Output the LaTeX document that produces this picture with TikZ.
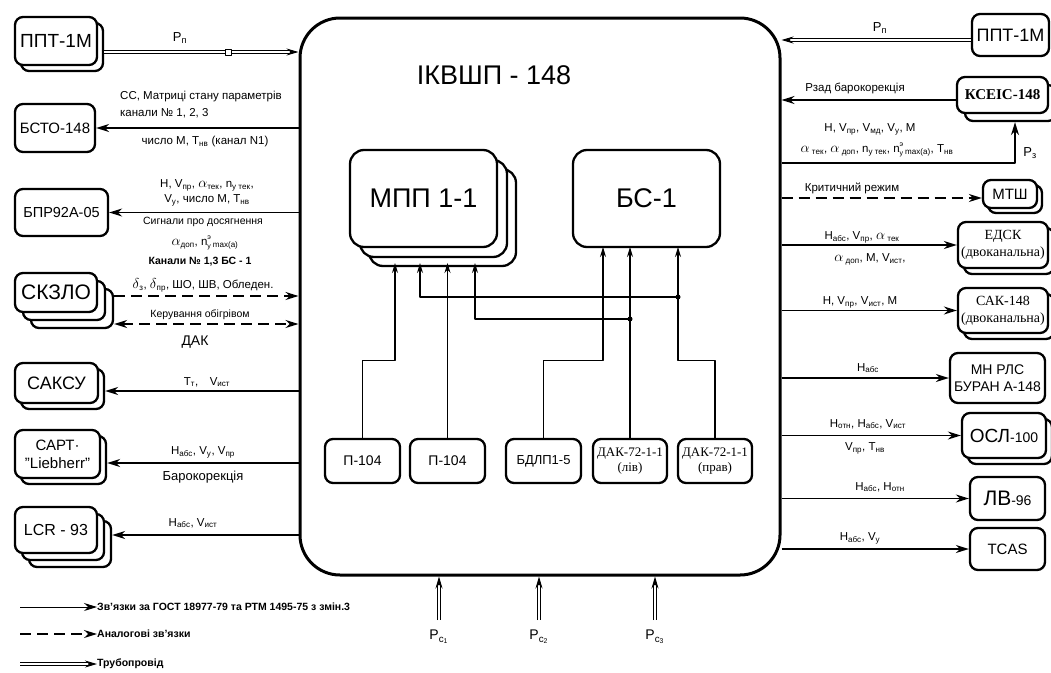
\documentclass[tikz,border=0pt]{standalone}
\usepackage{fontspec}
\usepackage{amsmath}
\setmainfont{Liberation Sans}
\newfontfamily\serifcyr{Liberation Serif}
\usetikzlibrary{arrows.meta,shadows}

\newcommand\ix[1]{\textsubscript{#1}}
\newcommand\fs[1]{\fontsize{#1}{#1}\selectfont\setlength\baselineskip{1.2\baselineskip}}
\newcommand\alf{{\fontsize{15}{15}\selectfont$\alpha$}}
\newcommand\dlt{{\fontsize{15}{15}\selectfont$\delta$}}
\newcommand\nuy{n{\fontsize{7}{7}\selectfont\rlap{\raisebox{5.5pt}{э}}\raisebox{-3pt}{у}}}

\tikzset{
 blk/.style={draw, line width=2.3pt, rounded corners=8pt, fill=white, inner sep=1pt, align=center},
 shd/.style={copy shadow={shadow xshift=#1, shadow yshift=-#1, opacity=1, fill=white, draw=black, line width=2.3pt}},
 shdd/.style 2 args={copy shadow={shadow xshift=#2, shadow yshift=-#2, opacity=1, fill=white, draw=black, line width=2.3pt},
   copy shadow={shadow xshift=#1, shadow yshift=-#1, opacity=1, fill=white, draw=black, line width=2.3pt}},
 conn/.style={line width=1.6pt, -{Stealth[length=13pt,width=8pt]}},
 analog/.style={conn, dash pattern=on 11pt off 6pt},
 pipe/.style={double, line width=1pt, double distance=2.2pt, -{Stealth[length=12pt,width=7pt]}},
 wire/.style={line width=1.1pt, -{Stealth[length=10pt,width=6pt]}},
 lbl/.style={font=\fs{11.5}, inner sep=0pt},
 jn/.style={circle, fill, inner sep=0pt, minimum size=5pt}
}

\begin{document}
\begin{tikzpicture}[x=1pt,y=-1pt,line join=round]
 \path[use as bounding box, fill=white] (0,0) rectangle (1051,672);

 % main unit
 \node[draw, line width=3pt, rounded corners=40pt, minimum width=480pt, minimum height=557pt, inner sep=0pt] (main) at (540,296.5) {};
 \node[font=\fs{27}] (title) at (494,75) {ІКВШП - 148};
 \node[blk, shdd={10pt}{19pt}, rounded corners=14pt, minimum width=147pt, minimum height=97pt, font=\fs{27}] (mpp) at (423.5,198.5) {МПП 1-1};
 \node[blk, rounded corners=14pt, minimum width=147pt, minimum height=97pt, font=\fs{27}] (bs) at (646.5,198.5) {БС-1};

 % sensors
 \node[blk, minimum width=75pt, minimum height=44pt, font=\fs{14}] (p1) at (362.5,461) {П-104};
 \node[blk, minimum width=75pt, minimum height=44pt, font=\fs{14}] (p2) at (447.5,461) {П-104};
 \node[blk, minimum width=75pt, minimum height=44pt, font=\fs{13}] (bdlp) at (543.5,461) {БДЛП1-5};
 \node[blk, minimum width=74pt, minimum height=44pt, font=\serifcyr\fs{13}] (dakl) at (630,461) {ДАК-72-1-1\\(лів)};
 \node[blk, minimum width=74pt, minimum height=44pt, font=\serifcyr\fs{13}] (dakp) at (715,461) {ДАК-72-1-1\\(прав)};

 \coordinate (m1) at (395,263);
 \coordinate (m2) at (420,263);
 \coordinate (m3) at (448,263);
 \coordinate (m4) at (475,263);
 \coordinate (b1) at (603,247);
 \coordinate (b3) at (678,247);
 \coordinate (j1) at (678,297);
 \coordinate (j2) at (630,319);
 \draw[wire] (p1.north) -- ++(0,-77) -| (m1);
 \draw[wire] (p2.north) -- (p2.north |- m3);
 \draw[wire] (bdlp.north) -- ++(0,-77) -| (b1);
 \draw[wire] (dakl.north) -- (dakl.north |- b1);
 \draw[wire] (dakp.north) -- ++(0,-77) -| (b3);
 \draw[wire] (j1) -| (m2);
 \draw[wire] (j2) -| (m4);
 \node[jn] (dot1) at (j1) {};
 \node[jn] (dot2) at (j2) {};

 % left side
 \node[blk, shd=6pt, minimum width=82pt, minimum height=48pt, font=\fs{19}] (pptl) at (56,41) {ППТ-1М};
 \node[blk, minimum width=80pt, minimum height=48pt, font=\fs{15}] (bsto) at (55,128) {БСТО-148};
 \node[blk, minimum width=93pt, minimum height=47pt, font=\fs{14.5}] (bpr) at (61.5,212.5) {БПР92А-05};
 \node[blk, shdd={8pt}{16pt}, minimum width=82pt, minimum height=39pt, font=\fs{21}] (skzlo) at (56,292.5) {СКЗЛО};
 \node[blk, shd=6pt, minimum width=83pt, minimum height=40pt, font=\fs{18}] (saksu) at (56.5,383) {САКСУ};
 \node[blk, shd=6pt, minimum width=85pt, minimum height=48pt, font=\fs{15}] (sart) at (57.5,454) {САРТ·\\"Liebherr"};
 \node[blk, shdd={7pt}{14pt}, minimum width=82pt, minimum height=46pt, font=\fs{16}] (lcr) at (56,530) {LCR - 93};

 \coordinate (pp1) at ([xshift=6pt,yshift=-11pt]pptl.east);
 \draw[pipe] (pp1) -- (pp1 -| main.west);
 \node[draw, fill=white, line width=.8pt, minimum size=6pt, inner sep=0pt] (valve) at (228,52) {};
 \draw[conn] (main.west |- bsto.east) -- (bsto.east);
 \draw[conn] (main.west |- bpr.east) -- (bpr.east);
 \coordinate (sk1) at ([xshift=16pt,yshift=-3.5pt]skzlo.east);
 \coordinate (sk2) at ([xshift=16pt,yshift=-31.5pt]skzlo.east);
 \draw[analog] (sk1) -- (sk1 -| main.west);
 \draw[analog, {Stealth[length=13pt,width=8pt]}-{Stealth[length=13pt,width=8pt]}] (sk2) -- (sk2 -| main.west);
 \coordinate (sa1) at ([xshift=6pt,yshift=-8pt]saksu.east);
 \draw[conn] (main.west |- sa1) -- (sa1);
 \coordinate (sr1) at ([xshift=6pt,yshift=-9pt]sart.east);
 \draw[conn] (main.west |- sr1) -- (sr1);
 \coordinate (lc1) at ([xshift=14pt,yshift=-5pt]lcr.east);
 \draw[conn] (main.west |- lc1) -- (lc1);

 \node[lbl, font=\fs{13}] (l1) at (180,38) {P\ix{п}};
 \node[lbl, anchor=west] (l2) at (120,97) {СС, Матриці стану параметрів};
 \node[lbl, anchor=west] (l3) at (120,113) {канали № 1, 2, 3};
 \node[lbl] (l4) at (205,142) {число М, Т\ix{нв} (канал N1)};
 \node[lbl] (l5) at (207,185) {H, V\ix{пр}, \alf\ix{тек}, n\ix{у тек},};
 \node[lbl] (l6) at (207,200) {V\ix{у}, число М, Т\ix{нв}};
 \node[lbl, font=\fs{10.5}] (l7) at (203,222) {Сигнали про досягнення};
 \node[lbl] (l8) at (205,243) {\alf\ix{доп}, \nuy\,\ix{max(a)}};
 \node[lbl, font=\bfseries\fs{10.5}] (l9) at (200,262) {Канали № 1,3 БС - 1};
 \node[lbl] (l10) at (203,285) {\dlt\ix{з}, \dlt\ix{пр}, ШО, ШВ, Обледен.};
 \node[lbl, font=\fs{10.5}] (l11) at (200,315) {Керування обігрівом};
 \node[lbl, font=\fs{14}] (l12) at (195,342) {ДАК};
 \node[lbl] (l13) at (207,382) {Т\ix{т},\quad V\ix{ист}};
 \node[lbl] (l14) at (203,452) {Н\ix{абс}, V\ix{у}, V\ix{пр}};
 \node[lbl, font=\fs{13}] (l15) at (203,477) {Барокорекція};
 \node[lbl] (l16) at (193,523) {Н\ix{абс}, V\ix{ист}};

 % right side
 \node[blk, minimum width=77pt, minimum height=42pt, font=\fs{18}] (pptr) at (1010.5,35) {ППТ-1М};
 \node[blk, shd=8pt, minimum width=91pt, minimum height=36pt, font=\serifcyr\bfseries\fs{15}] (kseis) at (1002.5,95) {КСЕІС-148};
 \node[blk, shd=5pt, minimum width=54pt, minimum height=28pt, font=\fs{15}] (mtsh) at (1010,194) {МТШ};
 \node[blk, shd=6pt, minimum width=90pt, minimum height=46pt, font=\serifcyr\fs{14}] (edsk) at (1003,245) {ЕДСК\\(двоканальна)};
 \node[blk, shd=6pt, minimum width=90pt, minimum height=45pt, font=\serifcyr\fs{14}] (sak) at (1003,310.5) {САК-148\\(двоканальна)};
 \node[blk, minimum width=95pt, minimum height=50pt, font=\fs{14}] (mnrls) at (997.5,378) {МН РЛС\\БУРАН А-148};
 \node[blk, shd=6pt, minimum width=84pt, minimum height=45pt, font=\fs{19}] (osl) at (1004,435.5) {ОСЛ{\fs{14}-100}};
 \node[blk, minimum width=75pt, minimum height=43pt, font=\fs{21}] (lv) at (1007.5,498.5) {ЛВ{\fs{14}-96}};
 \node[blk, minimum width=75pt, minimum height=42pt, font=\fs{15}] (tcas) at (1007.5,549) {TCAS};

 \coordinate (pp2) at ([yshift=-5pt]pptr.west);
 \draw[pipe] (pp2) -- (pp2 -| main.east);
 \coordinate (ks1) at ([yshift=-5pt]kseis.west);
 \draw[conn] (ks1) -- (ks1 -| main.east);
 \coordinate (pz) at (1015,163);
 \coordinate (kb) at ([yshift=-8pt]kseis.south);
 \draw[conn] (main.east |- pz) -| (kb -| pz);
 \coordinate (mt1) at ([yshift=-4pt]mtsh.west);
 \draw[analog] (main.east |- mt1) -- (mt1);
 \draw[conn] (main.east |- edsk.west) -- (edsk.west);
 \draw[conn] (main.east |- sak.west) -- (sak.west);
 \draw[conn] (main.east |- mnrls.west) -- (mnrls.west);
 \draw[conn] (main.east |- osl.west) -- (osl.west);
 \draw[conn] (main.east |- lv.west) -- (lv.west);
 \draw[conn] (main.east |- tcas.west) -- (tcas.west);

 \node[lbl, font=\fs{13}] (r1) at (880,28) {P\ix{п}};
 \node[lbl] (r2) at (855,88) {Рзад барокорекція};
 \node[lbl] (r3) at (870,129) {H, V\ix{пр}, V\ix{мд}, V\ix{у}, М};
 \node[lbl] (r4) at (877,150) {\alf\ix{ тек}, \alf\ix{ доп}, n\ix{у тек}, \nuy\,\ix{max(a)}, Т\ix{нв}};
 \node[lbl, font=\fs{13}] (r5) at (1030,153) {Р\ix{з}};
 \node[lbl] (r6) at (852,188) {Критичний режим};
 \node[lbl] (r7) at (862,237) {Н\ix{абс}, V\ix{пр}, \alf\ix{ тек}};
 \node[lbl] (r8) at (870,259) {\alf\ix{ доп}, М, V\ix{ист},};
 \node[lbl] (r9) at (860,302) {H, V\ix{пр}, V\ix{ист}, М};
 \node[lbl] (r10) at (868,368) {Н\ix{абс}};
 \node[lbl] (r11) at (868,424) {Н\ix{отн}, Н\ix{абс}, V\ix{ист}};
 \node[lbl] (r12) at (865,448) {V\ix{пр}, Т\ix{нв}};
 \node[lbl] (r13) at (880,487) {Н\ix{абс}, Н\ix{отн}};
 \node[lbl] (r14) at (860,538) {Н\ix{абс}, V\ix{у}};

 % pipelines from below
 \node[lbl, font=\fs{14}] (pc1) at (439,637) {P\ix{c\ix{1}}};
 \node[lbl, font=\fs{14}] (pc2) at (539,637) {P\ix{c\ix{2}}};
 \node[lbl, font=\fs{14}] (pc3) at (655,637) {P\ix{c\ix{3}}};
 \coordinate (pc1s) at (439,620);
 \coordinate (pc2s) at (539,620);
 \coordinate (pc3s) at (655,620);
 \draw[pipe] (pc1s) -- (pc1s |- main.south);
 \draw[pipe] (pc2s) -- (pc2s |- main.south);
 \draw[pipe] (pc3s) -- (pc3s |- main.south);

 % legend
 \node[lbl, anchor=west, font=\bfseries\fs{10.5}] (leg1) at (97,607) {Зв'язки за ГОСТ 18977-79 та РТМ 1495-75 з змін.3};
 \node[lbl, anchor=west, font=\bfseries\fs{10.5}] (leg2) at (97,634) {Аналогові зв'язки};
 \node[lbl, anchor=west, font=\bfseries\fs{10.5}] (leg3) at (97,664) {Трубопровід};
 \coordinate (leg1s) at (20,607);
 \coordinate (leg2s) at (20,634);
 \coordinate (leg3s) at (20,664);
 \draw[conn, line width=1pt] (leg1s) -- (leg1.west);
 \draw[analog] (leg2s) -- (leg2.west);
 \draw[pipe] (leg3s) -- (leg3.west);
\end{tikzpicture}
\end{document}
